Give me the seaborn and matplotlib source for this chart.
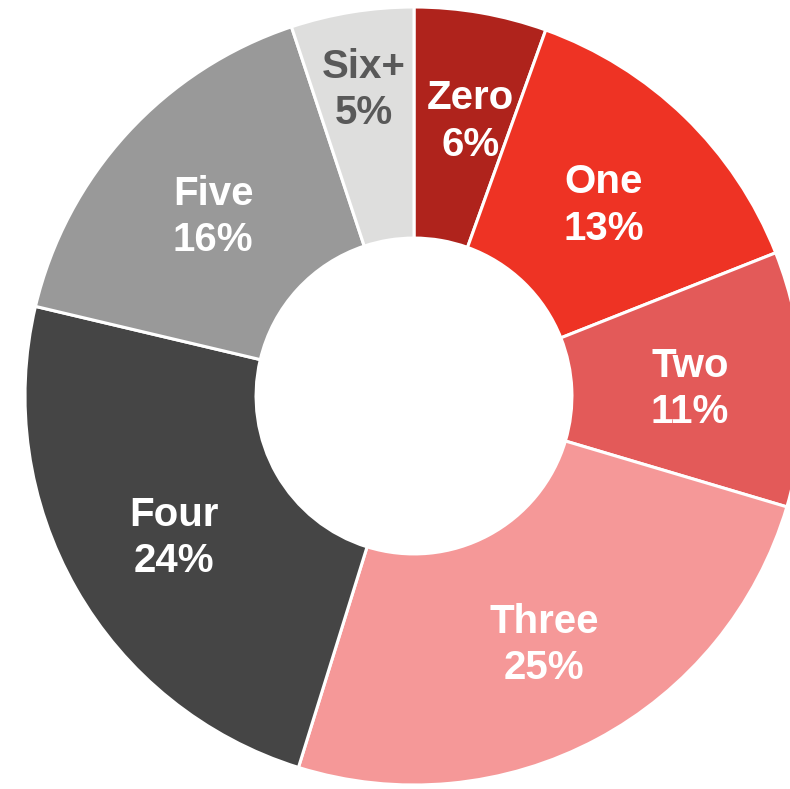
import numpy as np
import matplotlib
matplotlib.use("Agg")
import matplotlib.pyplot as plt
import seaborn as sns

# data
categories = ["Zero", "One", "Two", "Three", "Four", "Five", "Six+"]
shares = [5.5, 13.5, 10.6, 25.2, 23.9, 16.2, 5.1]
pct_labels = ["6%", "13%", "11%", "25%", "24%", "16%", "5%"]
colors = ["#AF231C", "#EE3324", "#E35A59", "#F59898", "#454545", "#999999", "#DEDEDD"]
text_colors = ["white", "white", "white", "white", "white", "white", "#595959"]
label_r = [0.73, 0.70, 0.71, 0.71, 0.71, 0.70, 0.81]

sns.set_style("white")
plt.rcParams['font.family'] = ['Liberation Sans', 'DejaVu Sans']

fig = plt.figure(figsize=(7.9, 7.89), dpi=100)
ax = fig.add_axes([0, 0, 1, 1])

wedges, _ = ax.pie(shares, colors=colors, startangle=90, counterclock=False,
                   radius=1.0, wedgeprops=dict(width=0.594, edgecolor="white", linewidth=2.2))

# labels in the middle of the ring (nudged a little down, as in the original)
for w, name, pl, tc, r in zip(wedges, categories, pct_labels, text_colors, label_r):
    ang = np.deg2rad((w.theta1 + w.theta2) / 2)
    ax.text(r * np.cos(ang) + (0.02 if name == "Zero" else 0), r * np.sin(ang) - 0.013,
            f"{name}\n{pl}", ha="center", va="center", fontsize=29, fontweight="bold",
            color=tc, linespacing=1.28)

# circle centre at (414, 396) px, radius 389 px
px = 389.0
ax.set_xlim(-414 / px, (790 - 414) / px)
ax.set_ylim(-(789 - 396) / px, 396 / px)
ax.set_aspect("auto")
ax.axis("off")

fig.savefig("out.png", dpi=100)
